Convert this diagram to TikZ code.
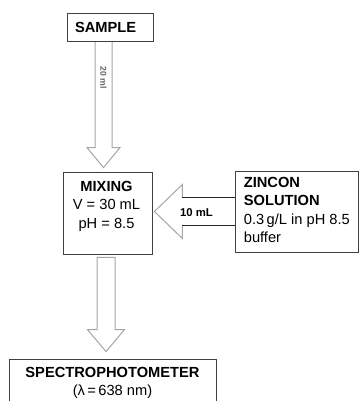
\documentclass[tikz,border=0pt]{standalone}
\usepackage{fontspec}
\setmainfont{Liberation Sans}
\usetikzlibrary{calc, shadows, backgrounds}

\begin{document}
\begin{tikzpicture}[
    x=0.75pt, y=-0.75pt,
    box/.style={
        draw=black!75,
        fill=white,
        line width=0.6pt,
        drop shadow={shadow xshift=0.9pt, shadow yshift=-0.9pt, fill=black!60, opacity=0.6},
        inner sep=0pt
      },
    boxtext/.style={
        inner sep=0pt,
        font=\fontsize{11pt}{13.7pt}\selectfont
      },
    hollow/.style={draw=black!35, fill=white, line width=0.75pt, line join=miter},
    shaft/.style={draw=black!85, line width=0.75pt}
  ]
  \useasboundingbox (0,0) rectangle (360,401);

  \node[box, minimum width=64.5pt, minimum height=21pt, inner xsep=6pt, text width=52.5pt, align=left,
        font=\bfseries\fontsize{11pt}{13pt}\selectfont] (sample) at (110,27) {SAMPLE};

  \node[box, minimum width=66.75pt, minimum height=61.5pt] (mixing) at (107.5,213) {};
  \node[boxtext, anchor=north, align=center] (mixingtxt) at ($(mixing.north)+(-1,9.5)$)
    {\textbf{MIXING}\\V = 30 mL\\pH = 8.5};

  \node[box, minimum width=92.25pt, minimum height=60.75pt] (zincon) at (296.5,211.5) {};
  \node[boxtext, anchor=north west, align=left] (zincontxt) at ($(zincon.north west)+(9,6.5)$)
    {\textbf{ZINCON}\\\textbf{SOLUTION}\\0.3\,g/L in pH 8.5\\buffer};

  \node[box, minimum width=155.25pt, minimum height=39.75pt] (spectro) at (112.5,385.5) {};
  \node[boxtext, anchor=north, align=center] (spectrotxt) at ($(spectro.north)+(0,8.5)$)
    {\textbf{SPECTROPHOTOMETER}\\(λ\,=\,638 nm)};

  % block arrows
  \coordinate (a1top) at ($(sample.south)+(-6.5,0)$);
  \coordinate (a1tip) at ($(a1top |- mixing.north)+(0,-4)$);
  \coordinate (a2top) at ($(mixing.south)+(-1.5,3)$);
  \coordinate (a2tip) at ($(a2top |- spectro.north)+(0,-7)$);
  \coordinate (a3tip) at ($(mixing.east |- zincon.west)+(2,0)$);

  \begin{scope}[on background layer]
    \draw[hollow] ($(a1top)+(-8.5,0)$) -- ($(a1tip)+(-8.5,-20)$) -- ($(a1tip)+(-16.5,-20)$) -- (a1tip)
      -- ($(a1tip)+(16.5,-20)$) -- ($(a1tip)+(8.5,-20)$) -- ($(a1top)+(8.5,0)$) -- cycle;
    \draw[hollow] ($(a2top)+(-9,0)$) -- ($(a2tip)+(-9,-22)$) -- ($(a2tip)+(-18.5,-22)$) -- (a2tip)
      -- ($(a2tip)+(18.5,-22)$) -- ($(a2tip)+(9,-22)$) -- ($(a2top)+(9,0)$) -- cycle;
    \draw[hollow] ($(a3tip)+(28,-14)$) -- ($(a3tip)+(28,-27)$) -- (a3tip) -- ($(a3tip)+(28,27)$) -- ($(a3tip)+(28,14)$);
    \draw[shaft] ($(a3tip)+(28,-14)$) -- ($(zincon.west)+(0,-14)$);
    \draw[shaft] ($(a3tip)+(28,14)$) -- ($(zincon.west)+(0,14)$);
  \end{scope}

  \node[rotate=-90, inner sep=0pt, text=black!60, font=\bfseries\fontsize{6.5pt}{7pt}\selectfont] (lab20) at (103.5,78) {20 ml};
  \node[inner sep=0pt, font=\bfseries\fontsize{8.5pt}{10pt}\selectfont] (lab10) at (196.5,213) {10 mL};
\end{tikzpicture}
\end{document}
